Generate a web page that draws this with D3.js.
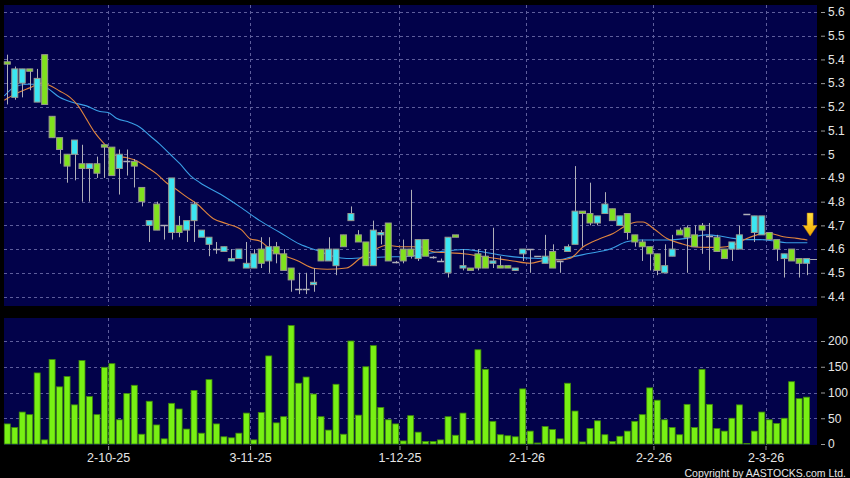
<!DOCTYPE html>
<html>
<head>
<meta charset="utf-8">
<script src="https://cdn.jsdelivr.net/npm/d3@7"></script>
<style>
	body { margin: 0; background: #000; }
	svg { display: block; font-family: "Liberation Sans", Arial, sans-serif; }
</style>
</head>
<body>
<div id="chart"></div>
<script>

// daily prices, one entry per trading day
var opens = [5.39,5.24,5.30,5.36,5.22,5.42,5.16,5.07,5.00,5.00, 4.96,4.94,4.96,5.04,5.03,4.94,4.97,4.97,4.86,4.70,
	4.79,4.70,4.67,4.70,4.68,4.72,4.65,4.62,4.60,4.59, 4.55,4.56,4.52,4.52,4.60,4.55,4.61,4.58,4.52,4.43,
	4.43,4.45,4.60,4.55,4.53,4.66,4.72,4.66,4.63,4.53, 4.66,4.71,4.545,4.60,4.60,4.56,4.64,4.565,4.55,4.50,
	4.66,4.52,4.52,4.58,4.57,4.54,4.53,4.53,4.51,4.58, 4.60,4.57,4.54,4.59,4.55,4.59,4.62,4.76,4.75,4.71,
	4.75,4.77,4.70,4.75,4.66,4.63,4.61,4.58,4.50,4.57, 4.68,4.69,4.66,4.70,4.655,4.65,4.60,4.60,4.60,4.75,
	4.67,4.66,4.67,4.64,4.56,4.60,4.56,4.54];
var highs = [5.42,5.37,5.36,5.36,5.36,5.42,5.16,5.07,5.00,5.06, 5.04,4.96,4.99,5.04,5.03,5.02,5.02,4.98,4.86,4.72,
	4.80,4.70,4.90,4.74,4.72,4.80,4.68,4.65,4.63,4.61, 4.60,4.60,4.63,4.60,4.65,4.65,4.63,4.60,4.52,4.50,
	4.50,4.52,4.60,4.65,4.60,4.66,4.78,4.68,4.63,4.72, 4.68,4.71,4.55,4.64,4.85,4.64,4.64,4.57,4.56,4.65,
	4.66,4.60,4.52,4.60,4.60,4.69,4.57,4.53,4.52,4.60, 4.60,4.57,4.66,4.62,4.55,4.62,4.95,4.76,4.88,4.74,
	4.84,4.77,4.74,4.75,4.66,4.64,4.61,4.58,4.62,4.66, 4.69,4.70,4.70,4.71,4.71,4.66,4.60,4.63,4.70,4.75,
	4.74,4.74,4.67,4.64,4.58,4.60,4.56,4.56];
var lows = [5.21,5.23,5.24,5.27,5.22,5.21,5.07,4.96,4.88,4.89, 4.80,4.80,4.90,4.90,4.91,4.83,4.91,4.86,4.78,4.63,
	4.68,4.64,4.64,4.65,4.63,4.63,4.65,4.57,4.58,4.59, 4.55,4.56,4.52,4.52,4.52,4.50,4.54,4.51,4.42,4.41,
	4.41,4.42,4.55,4.55,4.49,4.61,4.72,4.63,4.53,4.53, 4.62,4.55,4.54,4.54,4.56,4.55,4.57,4.56,4.55,4.48,
	4.65,4.51,4.51,4.51,4.52,4.52,4.52,4.52,4.51,4.55, 4.50,4.57,4.54,4.52,4.50,4.59,4.62,4.61,4.70,4.70,
	4.75,4.72,4.70,4.64,4.61,4.55,4.51,4.49,4.50,4.57, 4.66,4.50,4.61,4.58,4.51,4.59,4.56,4.55,4.60,4.75,
	4.63,4.66,4.64,4.55,4.48,4.55,4.48,4.49];
var closes = [5.38,5.36,5.36,5.35,5.32,5.21,5.07,5.02,4.95,5.06, 4.94,4.96,4.92,5.03,4.91,5.00,4.97,4.95,4.80,4.72,
	4.68,4.70,4.90,4.67,4.72,4.79,4.68,4.65,4.60,4.61, 4.56,4.60,4.54,4.58,4.54,4.61,4.58,4.51,4.47,4.43,
	4.43,4.46,4.55,4.60,4.60,4.61,4.75,4.63,4.53,4.68, 4.67,4.55,4.545,4.55,4.57,4.64,4.57,4.565,4.55,4.65,
	4.65,4.53,4.51,4.52,4.52,4.55,4.52,4.52,4.52,4.60, 4.60,4.57,4.57,4.52,4.55,4.61,4.76,4.75,4.71,4.74,
	4.79,4.72,4.74,4.67,4.63,4.61,4.58,4.51,4.53,4.60, 4.66,4.65,4.61,4.68,4.655,4.59,4.56,4.63,4.66,4.75,
	4.74,4.74,4.64,4.60,4.58,4.55,4.54,4.56];

// daily volume
var volumes = [39,32,62,57,138,8,164,111,131,76, 162,92,57,149,156,47,98,114,19,83,
	37,10,79,68,29,104,21,125,39,14, 12,21,60,8,61,171,41,53,230,118,
	130,97,53,27,116,19,200,56,150,191, 71,47,39,6,55,23,5,5,8,53,
	17,60,7,183,145,44,18,16,14,107, 25,2,34,28,10,118,64,4,30,45,
	18,5,15,25,44,57,109,85,47,32, 18,77,32,145,77,30,25,50,76,1,
	25,62,47,40,50,121,88,91];

// moving averages as drawn: [bar index, value]
var maShort = [[-0.4,5.228],[1,5.253],[3,5.28],[4.6,5.30],[5.7,5.29],[7,5.267],[8.4,5.24],[9.5,5.204],[10.6,5.148],
	[11.7,5.092],[12.8,5.05],[13.7,5.022],[14.6,4.994],[16,4.985],[17.3,4.973],[18.7,4.945],[20,4.917],[21.3,4.88],
	[22.7,4.85],[24,4.82],[25.4,4.79],[27.6,4.728],[29.4,4.707],[31.4,4.68],[32.5,4.644],[33.8,4.634],[35.2,4.60],
	[36.9,4.574],[38.7,4.553],[41.2,4.518],[42.8,4.515],[45.4,4.52],[47.2,4.56],[49,4.595],[50.8,4.616],[52.6,4.61],
	[55.3,4.61],[57,4.589],[59.3,4.584],[61.1,4.58],[63.3,4.57],[65.5,4.56],[67.7,4.55],[70,4.54],[72.2,4.554],
	[74,4.554],[75.3,4.56],[77.1,4.61],[79.3,4.644],[81.1,4.666],[82.9,4.70],[84.3,4.714],[85.1,4.714],[86.5,4.687],
	[88.3,4.645],[90.1,4.624],[91.8,4.61],[93.6,4.607],[95.4,4.607],[97.2,4.617],[99,4.645],[100.8,4.663],
	[102.1,4.666],[103.9,4.652],[105.7,4.645],[107.1,4.638]];
var maLong = [[-0.4,5.246],[0.8,5.28],[2.6,5.295],[3.9,5.295],[5.3,5.28],[7,5.24],[8.8,5.218],[10.6,5.204],[12.4,5.18],
	[13.5,5.176],[14.6,5.152],[16.4,5.134],[17.8,5.113],[19.1,5.078],[20.4,5.043],[21.8,5.0],[23.1,4.96],[24.5,4.91],
	[25.8,4.88],[28.5,4.832],[31.2,4.777],[33.8,4.72],[36.5,4.67],[39.2,4.62],[41.4,4.595],[43.6,4.57],[45.4,4.56],
	[48.1,4.564],[50.8,4.567],[53.9,4.57],[57.9,4.589],[61.1,4.598],[63.3,4.59],[66,4.575],[68.6,4.565],[71.3,4.56],
	[74,4.556],[75.3,4.565],[77.6,4.58],[80.7,4.60],[82.9,4.631],[84.7,4.638],[88.3,4.638],[90.9,4.645],[93.6,4.66],
	[95.4,4.655],[97.2,4.645],[99,4.64],[100.8,4.64],[102.5,4.635],[104.3,4.627],[107.1,4.627]];

// axis labels
var dateLabels = ["2-10-25","3-11-25","1-12-25","2-1-26","2-2-26","2-3-26"];
var dateIndex = [14,33,53,70,87,102];
var priceTicks = [4.4,4.5,4.6,4.7,4.8,4.9,5,5.1,5.2,5.3,5.4,5.5,5.6];
var volTicks = [0,50,100,150,200];


/*
 *	LAYOUT
 */
var width = 850, height = 478;
var pricePanel = { left: 4, right: 817, top: 5, bottom: 306 },
	volPanel = { left: 4, right: 817, top: 318, bottom: 445 };

var colUp = "#3be6f2", colDown = "#80e21e", colGrid = "#5e5e9c", colText = "#e6e6e6";

var svg = d3.select("#chart").append("svg")
	.attr("width", width)
	.attr("height", height);

svg.append("rect").attr("width", width).attr("height", height).attr("fill", "#000");

// scales
var xScale = d3.scaleLinear().domain([0, 107]).range([7.3, 806.6]);
var yPrice = d3.scaleLinear().domain([4.4, 5.6]).range([296.5, 12]);
var yVol = d3.scaleLinear().domain([0, 200]).range([444, 341]);

// panel backgrounds
[pricePanel, volPanel].forEach(function(p){
	svg.append("rect")
		.attr("x", p.left).attr("y", p.top)
		.attr("width", p.right - p.left).attr("height", p.bottom - p.top)
		.attr("fill", "#02024a");
});

svg.append("clipPath").attr("id", "clipPrice")
	.append("rect")
		.attr("x", pricePanel.left).attr("y", pricePanel.top)
		.attr("width", pricePanel.right - pricePanel.left)
		.attr("height", pricePanel.bottom - pricePanel.top);

// grid lines
var grid = svg.append("g")
	.attr("stroke", colGrid)
	.attr("stroke-width", 1)
	.attr("stroke-dasharray", "3,3");

grid.selectAll(".hp").data(priceTicks).enter().append("line")
	.attr("x1", pricePanel.left).attr("x2", pricePanel.right)
	.attr("y1", function(d){ return Math.round(yPrice(d)) + 0.5 })
	.attr("y2", function(d){ return Math.round(yPrice(d)) + 0.5 });

grid.selectAll(".hv").data(volTicks.slice(1)).enter().append("line")
	.attr("x1", volPanel.left).attr("x2", volPanel.right)
	.attr("y1", function(d){ return Math.round(yVol(d)) + 0.5 })
	.attr("y2", function(d){ return Math.round(yVol(d)) + 0.5 });

[pricePanel, volPanel].forEach(function(p){
	grid.selectAll(null).data(dateIndex).enter().append("line")
		.attr("x1", function(d){ return Math.round(xScale(d - 0.5)) + 0.5 })
		.attr("x2", function(d){ return Math.round(xScale(d - 0.5)) + 0.5 })
		.attr("y1", p.top).attr("y2", p.bottom);
});


/*
 *	VOLUME BARS
 */
svg.append("g").selectAll("rect")
	.data(volumes).enter()
	.append("rect")
		.attr("x", function(d,i){ return xScale(i) - 3 })
		.attr("y", function(d){ return yVol(d) })
		.attr("width", 6)
		.attr("height", function(d){ return yVol(0) - yVol(d) })
		.attr("fill", "#78f014")
		.attr("stroke", "#3f8a0a")
		.attr("stroke-width", 0.8);


/*
 *	MOVING AVERAGES
 */
var maLine = d3.line()
	.x(function(d){ return xScale(d[0]) })
	.y(function(d){ return yPrice(d[1]) })
	.curve(d3.curveMonotoneX);

svg.append("path").datum(maLong)
	.attr("d", maLine)
	.attr("clip-path", "url(#clipPrice)")
	.attr("fill", "none")
	.attr("stroke", "#3a9fe6")
	.attr("stroke-width", 1.1);

svg.append("path").datum(maShort)
	.attr("d", maLine)
	.attr("clip-path", "url(#clipPrice)")
	.attr("fill", "none")
	.attr("stroke", "#e0853e")
	.attr("stroke-width", 1.1);


/*
 *	CANDLES
 */
var candles = svg.append("g").selectAll("g")
	.data(d3.range(opens.length)).enter()
	.append("g");

// wicks
candles.append("line")
	.attr("x1", function(i){ return Math.round(xScale(i)) + 0.5 })
	.attr("x2", function(i){ return Math.round(xScale(i)) + 0.5 })
	.attr("y1", function(i){ return yPrice(highs[i]) })
	.attr("y2", function(i){ return yPrice(lows[i]) })
	.attr("stroke", "#b0b0b8")
	.attr("stroke-width", 1);

// bodies
candles.filter(function(i){ return opens[i] != closes[i] })
	.append("rect")
		.attr("x", function(i){ return xScale(i) - 3 })
		.attr("y", function(i){ return yPrice(Math.max(opens[i], closes[i])) })
		.attr("width", 6)
		.attr("height", function(i){ return Math.max(2, Math.abs(yPrice(opens[i]) - yPrice(closes[i]))) })
		.attr("fill", function(i){ return closes[i] > opens[i] ? colUp : colDown })
		.attr("stroke", "#9a9a8e")
		.attr("stroke-width", 1);

// doji marks
candles.filter(function(i){ return opens[i] == closes[i] })
	.append("line")
		.attr("x1", function(i){ return xScale(i) - 3.5 })
		.attr("x2", function(i){ return xScale(i) + 3.5 })
		.attr("y1", function(i){ return Math.round(yPrice(closes[i])) + 0.5 })
		.attr("y2", function(i){ return Math.round(yPrice(closes[i])) + 0.5 })
		.attr("stroke", "#b0b0b8")
		.attr("stroke-width", 1.5);

// last close marker
var last = closes.length - 1;
svg.append("line")
	.attr("x1", xScale(last) + 3.5).attr("x2", pricePanel.right)
	.attr("y1", Math.round(yPrice(closes[last])) + 0.5)
	.attr("y2", Math.round(yPrice(closes[last])) + 0.5)
	.attr("stroke", "#a8a8b0");

// yellow arrow above the last bar
var defs = svg.append("defs");
var grad = defs.append("linearGradient").attr("id", "arrowGrad")
	.attr("x1", 0).attr("x2", 0).attr("y1", 0).attr("y2", 1);
grad.append("stop").attr("offset", "0%").attr("stop-color", "#ffe040");
grad.append("stop").attr("offset", "100%").attr("stop-color", "#f0a800");

var ax = xScale(last) + 3.5, ay = yPrice(4.752);
svg.append("path")
	.attr("d", "M" + (ax - 3) + "," + ay + "h6v12.5h4l-7,10.5l-7,-10.5h4z")
	.attr("fill", "url(#arrowGrad)")
	.attr("stroke", "#c08000")
	.attr("stroke-width", 0.5);


/*
 *	AXES
 */
var priceAxis = d3.axisRight(yPrice)
	.tickValues(priceTicks)
	.tickSize(4)
	.tickPadding(3)
	.tickFormat(function(d){ return d3.format("~g")(d) });

var volAxis = d3.axisRight(yVol)
	.tickValues(volTicks)
	.tickSize(4)
	.tickPadding(3);

var dateAxis = d3.axisBottom(xScale)
	.tickValues(dateIndex.map(function(d){ return d - 0.5 }))
	.tickSize(4)
	.tickPadding(3)
	.tickFormat(function(d,k){ return dateLabels[k] });

svg.append("g").attr("class", "axis")
	.attr("transform", "translate(821,0)")
	.call(priceAxis);

svg.append("g").attr("class", "axis")
	.attr("transform", "translate(821,0)")
	.call(volAxis);

svg.append("g").attr("class", "axis date")
	.attr("transform", "translate(0,446)")
	.call(dateAxis);

svg.selectAll(".axis .domain").remove();
svg.selectAll(".axis line").attr("stroke", "#9a9a9a");
svg.selectAll(".axis text")
	.attr("fill", colText)
	.style("font-family", "'Liberation Sans', Arial, sans-serif")
	.style("font-size", "12px");
svg.selectAll(".axis.date text").style("font-size", "12.5px");

// copyright line
svg.append("text")
	.text("Copyright by AASTOCKS.com Ltd.")
	.attr("x", 846).attr("y", 476.5)
	.attr("text-anchor", "end")
	.attr("fill", colText)
	.style("font-family", "'Liberation Sans Narrow', 'Liberation Sans', Arial, sans-serif")
	.style("font-size", "10.5px");

</script>
</body>
</html>
